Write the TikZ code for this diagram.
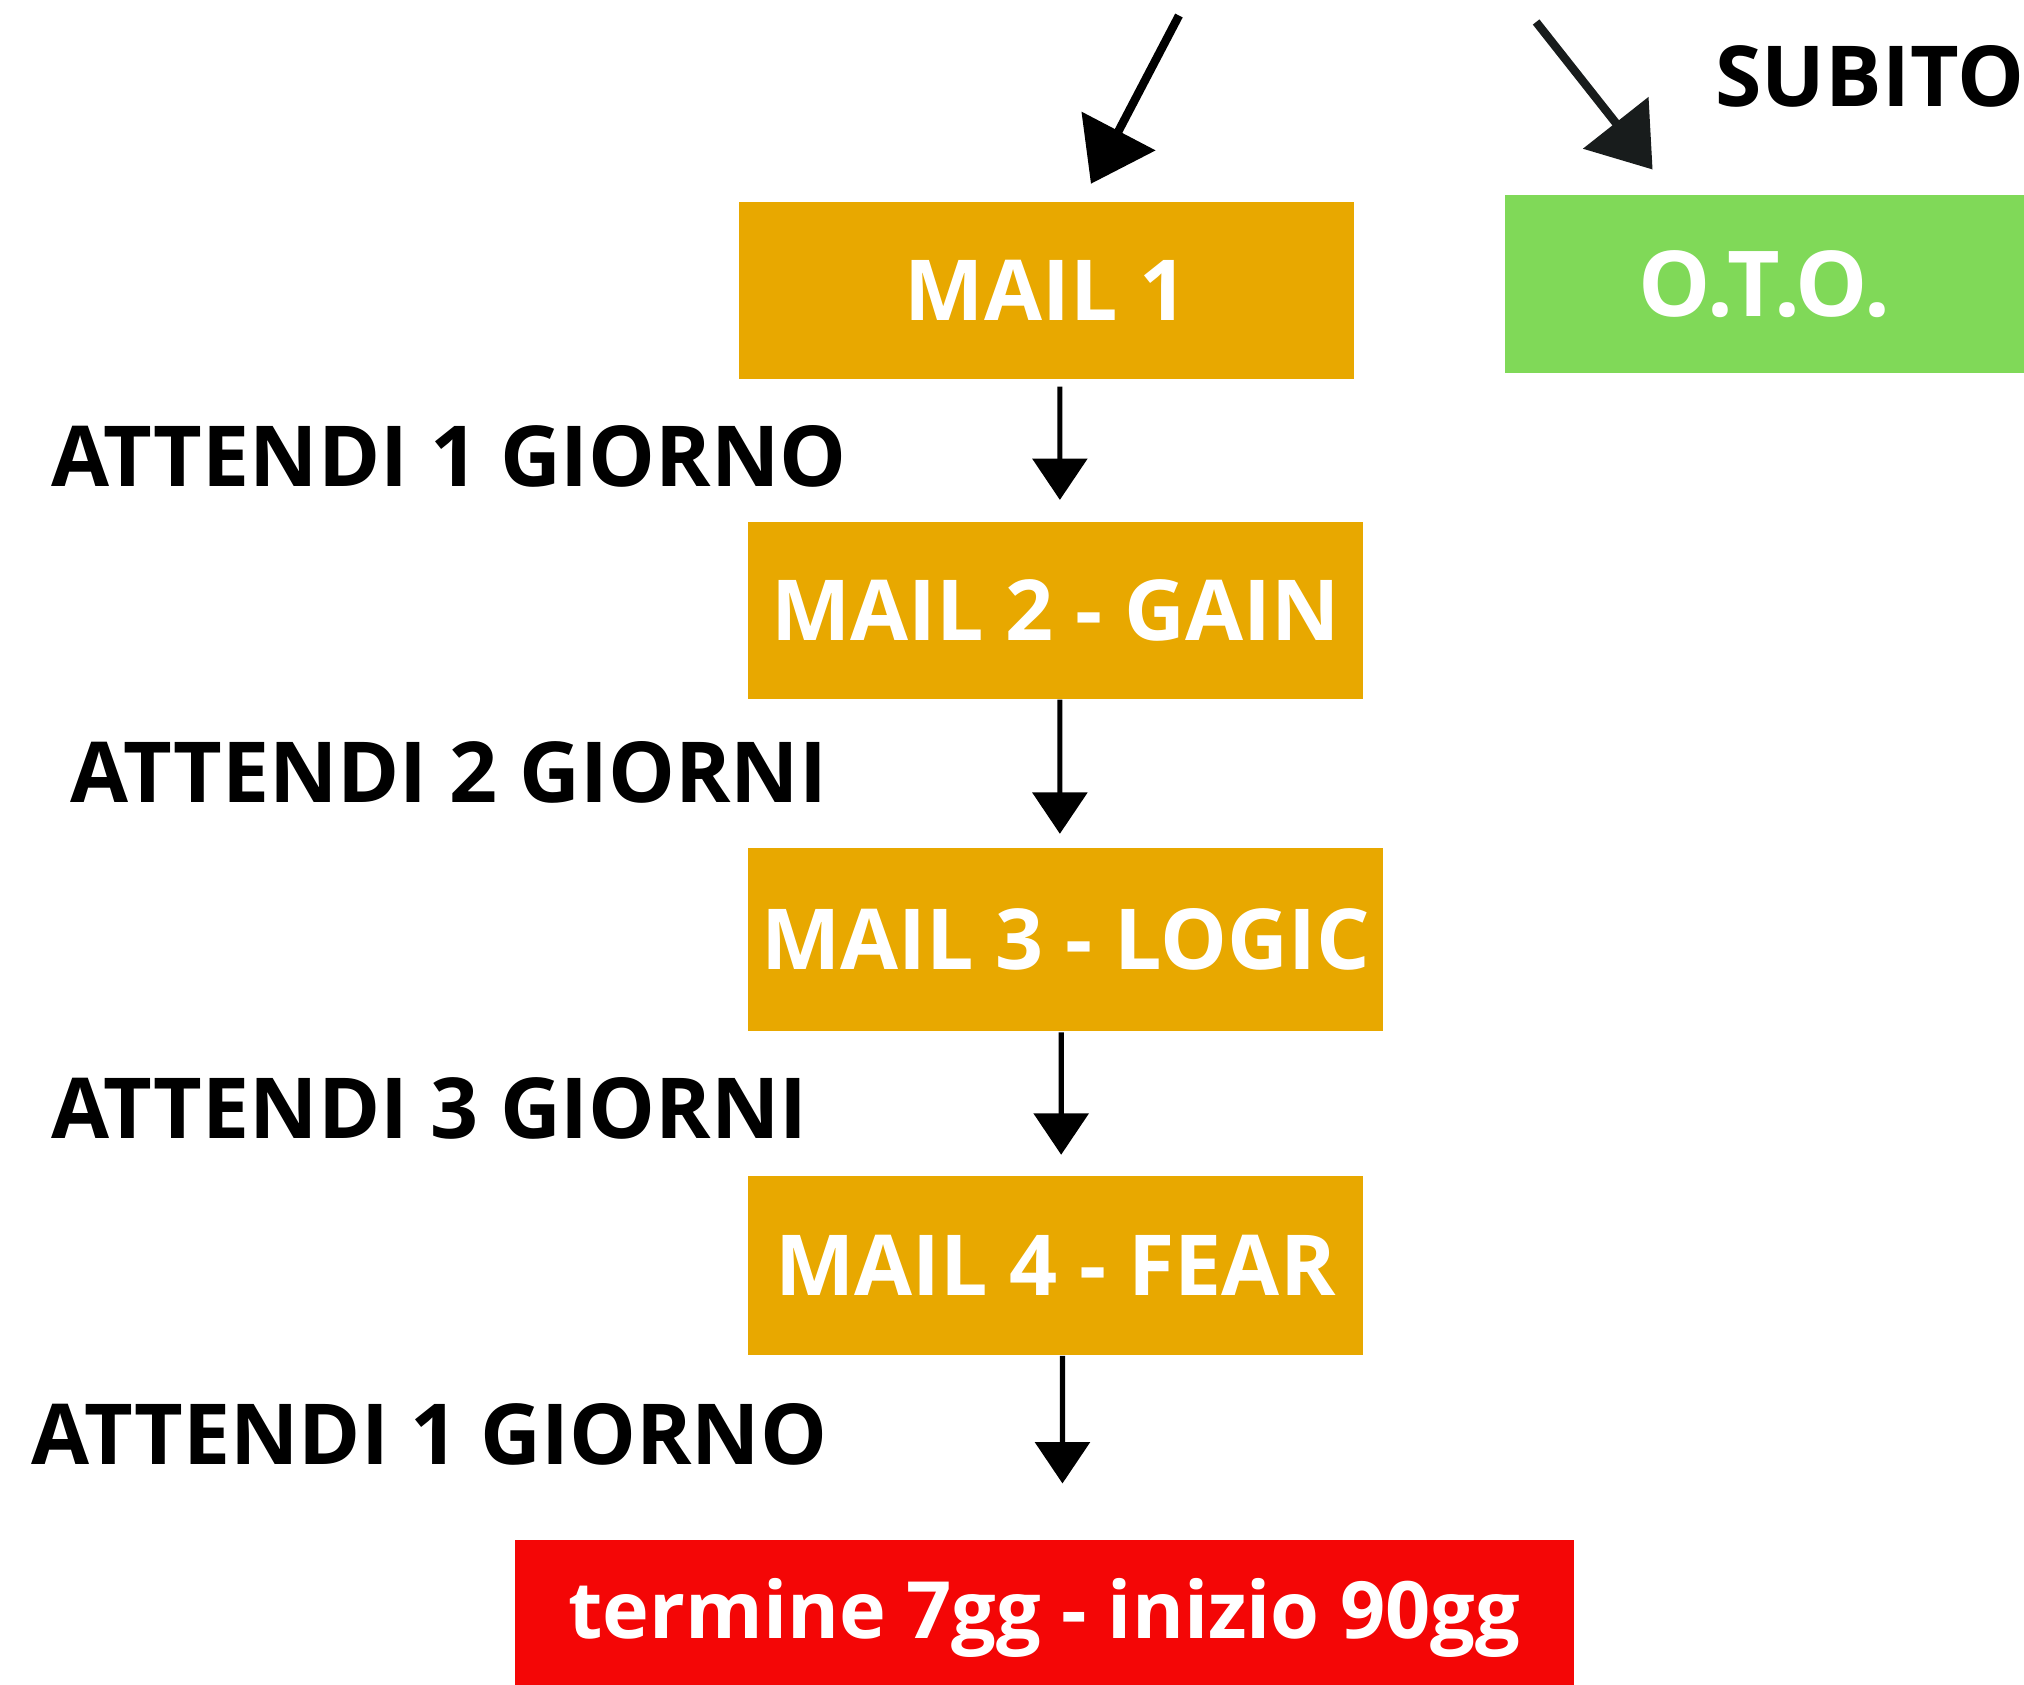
\documentclass[tikz,border=0pt]{standalone}
\usepackage{fontspec}
\setmainfont{Open Sans}
\usepackage{tikz}
\usetikzlibrary{arrows.meta}
\definecolor{mailorange}{RGB}{232,168,0}
\definecolor{otogreen}{RGB}{128,217,88}
\definecolor{endred}{RGB}{244,6,6}
\definecolor{darkarrow}{RGB}{24,28,28}

\begin{document}
\begin{tikzpicture}[
  mailbox/.style={rectangle,fill=mailorange,text=white,inner sep=0pt,minimum width=4.75cm,minimum height=1.37cm,font=\fontsize{18.5}{22}\selectfont\bfseries},
  waitlabel/.style={anchor=west,inner sep=0pt,font=\fontsize{18.5}{22}\selectfont\bfseries},
  flow/.style={-{Triangle[length=0.32cm,width=0.42cm]},line width=0.04cm},
  entry/.style={-{Triangle[length=0.46cm,width=0.63cm]},line width=0.065cm}
]
\useasboundingbox (0,0) rectangle (15.64,-13.02);

% Mail sequence
\node[mailbox] (mail1) at (8.085,-2.245) {MAIL 1};
\node[mailbox] (mail2) at (8.155,-4.715) {MAIL 2 - GAIN};
\node[mailbox,minimum width=4.91cm,minimum height=1.42cm] (mail3) at (8.235,-7.26) {MAIL 3 - LOGIC};
\node[mailbox,minimum height=1.38cm] (mail4) at (8.155,-9.78) {MAIL 4 - FEAR};

% One time offer and end of sequence
\node[mailbox,fill=otogreen,minimum width=4.01cm,font=\fontsize{20}{24}\selectfont\bfseries] (oto) at (13.635,-2.195) {O.T.O.};
\node[mailbox,fill=endred,minimum width=8.18cm,minimum height=1.2cm,font=\fontsize{17.4}{21}\selectfont\bfseries] (final) at (8.07,-12.50) {termine 7gg - inizio 90gg};

% Waiting times
\node[waitlabel] (wait1) at (0.39,-3.53) {ATTENDI 1 GIORNO};
\node[waitlabel] (wait2) at (0.54,-5.965) {ATTENDI 2 GIORNI};
\node[waitlabel] (wait3) at (0.39,-8.565) {ATTENDI 3 GIORNI};
\node[waitlabel] (wait4) at (0.24,-11.085) {ATTENDI 1 GIORNO};
\node[waitlabel] (subito) at (13.25,-0.59) {SUBITO};

% Connection lines
\draw[flow] ([xshift=1.05mm,yshift=-0.5mm]mail1.south) -- ([xshift=0.35mm,yshift=1.6mm]mail2.north);
\draw[flow] ([xshift=0.35mm]mail2.south) -- ([xshift=-0.45mm,yshift=1mm]mail3.north);
\draw[flow] ([xshift=-0.35mm]mail3.south) -- ([xshift=0.45mm,yshift=1.6mm]mail4.north);
\draw[flow] ([xshift=0.55mm]mail4.south) -- ([xshift=1.4mm,yshift=4.3mm]final.north);

% Entry arrows
\coordinate (in1) at (9.11,-0.12);
\coordinate (in1end) at (8.43,-1.42);
\coordinate (in2) at (11.87,-0.17);
\coordinate (in2end) at (12.77,-1.31);
\draw[entry] (in1) -- (in1end);
\draw[entry,draw=darkarrow,fill=darkarrow] (in2) -- (in2end);
\end{tikzpicture}
\end{document}
